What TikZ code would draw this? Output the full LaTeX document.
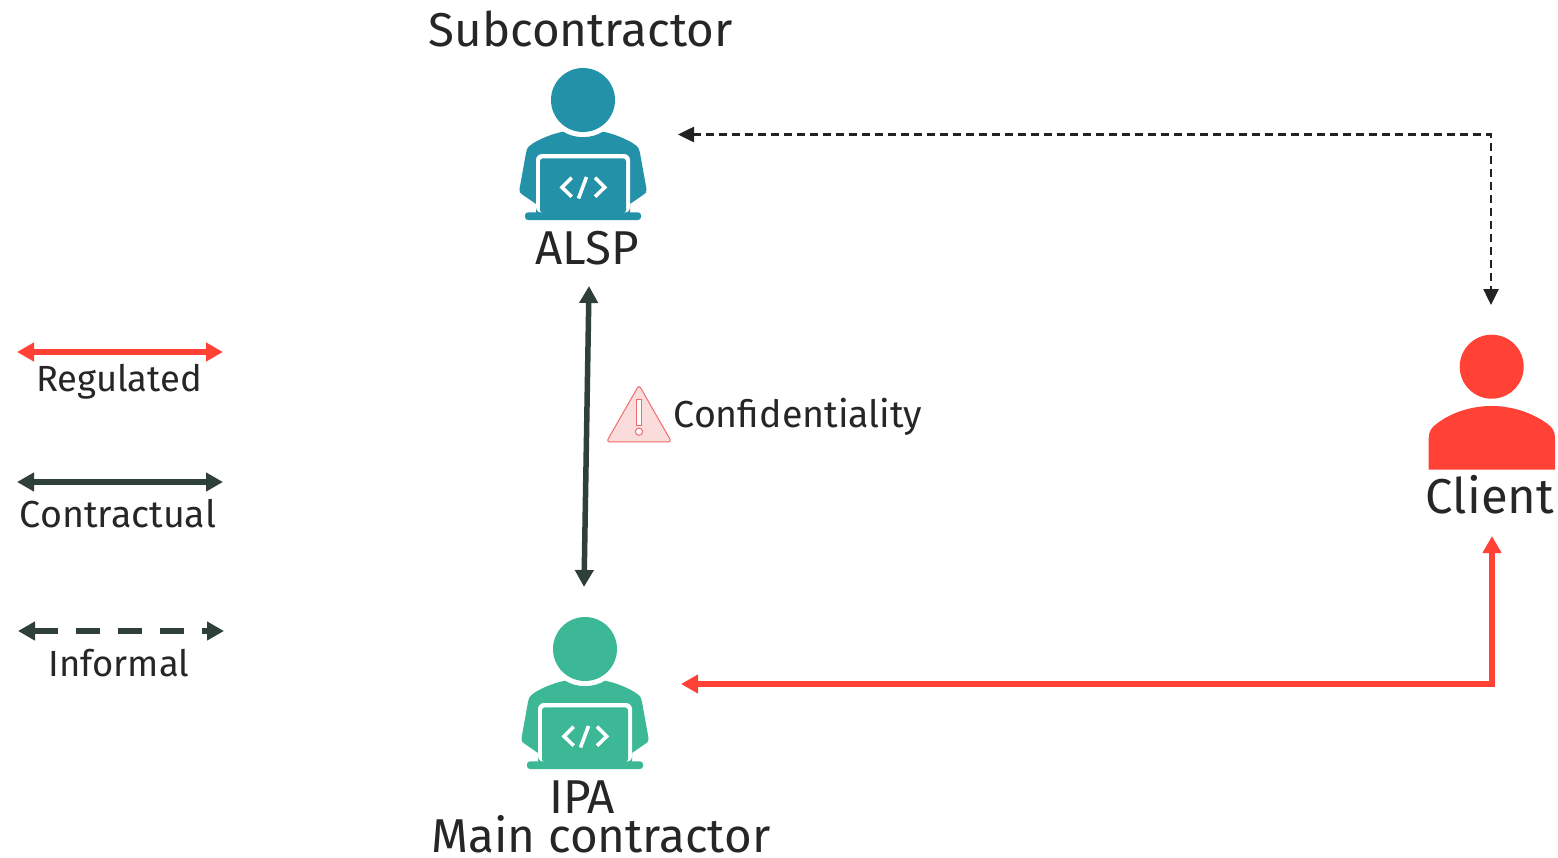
\documentclass[tikz,border=0pt]{standalone}
\usepackage{fontspec}
\setmainfont{Fira Sans}
\usetikzlibrary{arrows.meta}
\definecolor{txt}{HTML}{262626}
\definecolor{tealc}{HTML}{2391A8}
\definecolor{greenc}{HTML}{3CB896}
\definecolor{redc}{HTML}{FF4136}
\definecolor{darkc}{HTML}{2F3F3A}
\definecolor{dashc}{HTML}{222222}
\definecolor{warnf}{HTML}{FADCDC}
\definecolor{warnd}{HTML}{F26A6A}
\tikzset{
  x=1pt,y=-1pt,
  big/.style={text=txt,font=\fontsize{47.5}{47.5}\selectfont,inner sep=0,anchor=base},
  mid/.style={text=txt,font=\fontsize{37.6}{37.6}\selectfont,inner sep=0,anchor=base},
  legendsmall/.style={text=txt,font=\fontsize{36.4}{36.4}\selectfont,inner sep=0,anchor=base},
  clientlabel/.style={text=txt,font=\fontsize{49}{49}\selectfont,inner sep=0,anchor=base},
  regulated/.style={draw=redc,line width=5.5pt,{Triangle[length=17pt,width=18pt]}-{Triangle[length=17pt,width=18pt]}},
  contractual/.style={draw=darkc,line width=5.5pt,{Triangle[length=17pt,width=18pt]}-{Triangle[length=17pt,width=18pt]}},
  informal/.style={draw=darkc,line width=5.5pt,dash pattern=on 24pt off 18pt,{Triangle[length=17pt,width=18pt]}-{Triangle[length=17pt,width=18pt]}},
  dashlink/.style={draw=dashc,line width=2.6pt,dash pattern=on 8pt off 5pt,{Triangle[length=16pt,width=15pt]}-{Triangle[length=16pt,width=15pt]}},
  coder/.pic={
    \fill[pic actions] (0,0) circle[radius=32];
    \fill[pic actions] (-20,31.7) .. controls (-8,39) and (8,39) .. (20,31.7)
      .. controls (32,34) and (46,40) .. (53,45.5) .. controls (56,48) and (56.5,50) .. (57,53)
      -- (63.5,89) .. controls (64,92) and (63,93) .. (60,95) -- (47,104) -- (47,116) -- (-47,116) -- (-47,104) -- (-60,95)
      .. controls (-63,93) and (-64,92) .. (-63.5,89) -- (-57,53) .. controls (-56.5,50) and (-56,48) .. (-53,45.5)
      .. controls (-46,40) and (-32,34) .. (-20,31.7) -- cycle;
    \fill[white,rounded corners=6pt] (-47,54) rectangle (47,113);
    \fill[pic actions,rounded corners=3pt] (-43,58.3) rectangle (43,113);
    \fill[pic actions,rounded corners=3pt] (-58,112.3) -- (58,112.3) -- (58,120) -- (-58,120) -- cycle;
    \draw[white,line width=3.6pt,line join=miter] (-11.3,77.7) -- (-21,87.3) -- (-11.3,96.7);
    \draw[white,line width=3.6pt] (12,77.7) -- (21.7,87.3) -- (12,96.7);
    \draw[white,line width=3.6pt] (3.5,77) -- (-4.5,98.5);
  }
}
\begin{document}
\begin{tikzpicture}
\useasboundingbox (0,0) rectangle (1558,857);
% people
\pic[tealc] (alspicon) at (583,100) {coder};
\pic[greenc] (ipaicon) at (585,649) {coder};
\fill[redc] (1491.7,366.7) circle[radius=32];
\fill[redc] (1428.7,469.5) -- (1428.7,438) .. controls (1428.7,431) and (1432,427) .. (1437,423.5)
  .. controls (1452,412) and (1472,406) .. (1491.7,406)
  .. controls (1511,406) and (1531,412) .. (1547,423.5)
  .. controls (1552,427) and (1555,431) .. (1555,438) -- (1555,469.5) -- cycle;
% warning
\filldraw[fill=warnf,draw=warnd,line width=1pt,rounded corners=3pt] (639,385) -- (671.5,441.8) -- (606.5,441.8) -- cycle;
\filldraw[fill=white,draw=warnd,line width=1pt] (636.7,399.5) rectangle (641.5,425);
\filldraw[fill=white,draw=warnd,line width=1pt] (639,431.7) circle[radius=3.6];
% text
\node[big] (sub) at (580.5,46) {Subcontractor};
\node[big] (alsp) at (587.5,264) {ALSP};
\node[big] (ipa) at (582,813) {IPA};
\node[big] (main) at (601,852) {Main contractor};
\node[clientlabel] (client) at (1490,513) {Client};
\node[mid] (conf) at (798,427.5) {Confidentiality};
\node[legendsmall] (lreg) at (119,391) {Regulated};
\node[mid] (lcon) at (118,527) {Contractual};
\node[legendsmall] (linf) at (119,676) {Informal};
% anchors
\coordinate (a1) at (678,134.5);
\coordinate (c1) at (1491,134.5);
\coordinate (c2) at (1491,305);
\coordinate (a2) at (589,286);
\coordinate (i1) at (584,587);
\coordinate (i2) at (681,684);
\coordinate (c3) at (1492,684);
\coordinate (c4) at (1492,536);
\coordinate (r1) at (17,352); \coordinate (r2) at (223,352);
\coordinate (k1) at (17,482); \coordinate (k2) at (223,482);
\coordinate (f1) at (18,631); \coordinate (f2) at (224,631);
% connectors
\draw[dashlink] (a1) -- (c1) -- (c2);
\draw[contractual] (a2) -- (i1);
\draw[regulated] (i2) -- (c3) -- (c4);
\draw[regulated] (r1) -- (r2);
\draw[contractual] (k1) -- (k2);
\draw[informal] (f1) -- (f2);
\end{tikzpicture}
\end{document}
